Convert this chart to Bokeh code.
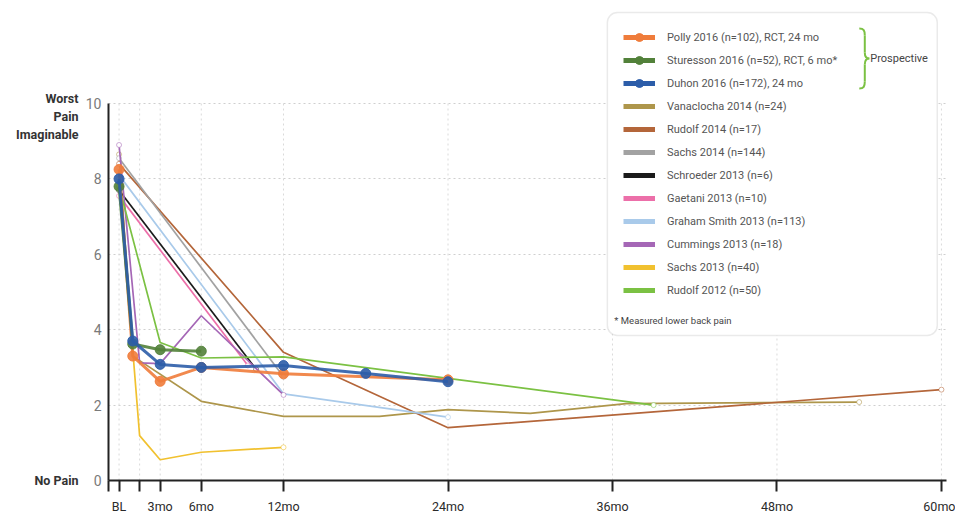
from bokeh.plotting import figure
from bokeh.models import (FixedTicker, Range1d, Legend, LegendItem, BoxAnnotation,
                          Label, LinearAxis)
from bokeh.embed import file_html
from bokeh.resources import INLINE

# ---------------- data ----------------
tick_months = [0, 1.5, 3, 6, 12, 24, 36, 48, 60]
tick_labels = ["BL", "", "3mo", "6mo", "12mo", "24mo", "36mo", "48mo", "60mo"]
y_ticks = [0, 2, 4, 6, 8, 10]

polly_x = [0, 1, 3, 6, 12, 24]
polly_y = [8.25, 3.3, 2.63, 3.0, 2.83, 2.67]

sturesson_x = [0, 1, 3, 6]
sturesson_y = [7.8, 3.62, 3.47, 3.43]

duhon_x = [0, 1, 3, 6, 12, 18, 24]
duhon_y = [8.0, 3.7, 3.08, 3.0, 3.05, 2.84, 2.62]

vanaclocha_x = [0, 1, 6, 12, 19, 24, 30, 37, 54]
vanaclocha_y = [8.65, 3.3, 2.1, 1.7, 1.7, 1.88, 1.78, 2.04, 2.08]

rudolf14_x = [0, 12, 24, 60]
rudolf14_y = [8.4, 3.4, 1.4, 2.41]

sachs14_x = [0, 12]
sachs14_y = [8.55, 2.75]

schroeder_x = [0, 10]
schroeder_y = [7.7, 2.95]

gaetani_x = [0, 9.4]
gaetani_y = [7.55, 3.05]

graham_x = [0, 12, 24]
graham_y = [8.1, 2.3, 1.68]

cummings_x = [0, 1.5, 3, 6, 12]
cummings_y = [8.9, 3.12, 3.1, 4.37, 2.27]

sachs13_x = [0, 1.5, 3, 6, 12]
sachs13_y = [8.0, 1.19, 0.55, 0.75, 0.88]

rudolf12_x = [0, 3, 6, 12, 24, 39]
rudolf12_y = [7.8, 3.66, 3.25, 3.28, 2.71, 2.0]

prospective = [
    ("Polly 2016 (n=102), RCT, 24 mo", polly_x, polly_y, "#EF7C3B"),
    ("Sturesson 2016 (n=52), RCT, 6 mo*", sturesson_x, sturesson_y, "#52813A"),
    ("Duhon 2016 (n=172), 24 mo", duhon_x, duhon_y, "#2C5DA9"),
]
others = [
    ("Vanaclocha 2014 (n=24)", vanaclocha_x, vanaclocha_y, "#AE964B"),
    ("Rudolf 2014 (n=17)", rudolf14_x, rudolf14_y, "#B4663A"),
    ("Sachs 2014 (n=144)", sachs14_x, sachs14_y, "#A2A2A2"),
    ("Schroeder 2013 (n=6)", schroeder_x, schroeder_y, "#1B1B1B"),
    ("Gaetani 2013 (n=10)", gaetani_x, gaetani_y, "#EC6FA9"),
    ("Graham Smith 2013 (n=113)", graham_x, graham_y, "#A9CAEA"),
    ("Cummings 2013 (n=18)", cummings_x, cummings_y, "#A567B6"),
    ("Sachs 2013 (n=40)", sachs13_x, sachs13_y, "#F1C12F"),
    ("Rudolf 2012 (n=50)", rudolf12_x, rudolf12_y, "#7BC143"),
]
axis_captions = {9.65: "Worst\nPain\nImaginable", 0: "No Pain"}

# ---------------- layout helpers (page pixels -> data) ----------------
FONT = "Roboto"
X_START, X_END = -0.77, 60.37
FRAME_LEFT_PX, FRAME_BOTTOM_PX = 108.0, 480.0
PX_PER_MONTH = 13.71
PX_PER_UNIT = 37.7
NAN = float("nan")


def dx(px):
    return X_START + (px - FRAME_LEFT_PX) / PX_PER_MONTH


def dy(py):
    return (FRAME_BOTTOM_PX - py) / PX_PER_UNIT


p = figure(width=955, height=516, x_range=Range1d(X_START, X_END),
           y_range=Range1d(0, dy(10)), output_backend="svg",
           toolbar_location=None, min_border_left=108, min_border_right=9,
           min_border_top=10, min_border_bottom=36)
p.outline_line_color = None
p.background_fill_color = "white"

# axes
xa = p.xaxis[0]
xa.ticker = FixedTicker(ticks=[X_START] + tick_months)
overrides = {X_START: ""}
for m, lab in zip(tick_months, tick_labels):
    overrides[m] = lab
xa.major_label_overrides = overrides
xa.axis_line_width = 2
xa.axis_line_color = "#222222"
xa.major_tick_out = 11
xa.major_tick_in = 0
xa.major_tick_line_width = 2
xa.major_tick_line_color = "#222222"
xa.minor_tick_out = 0
xa.minor_tick_in = 0
xa.major_label_text_font = FONT
xa.major_label_text_font_size = "12.5px"
xa.major_label_text_color = "#2a2a2a"
xa.major_label_standoff = 7

ya = p.yaxis[0]
ya.ticker = FixedTicker(ticks=y_ticks)
ya.bounds = (0, 10)
ya.axis_line_width = 2
ya.axis_line_color = "#222222"
ya.major_tick_out = 0
ya.major_tick_in = 0
ya.minor_tick_out = 0
ya.minor_tick_in = 0
ya.major_label_text_font = FONT
ya.major_label_text_font_size = "14px"
ya.major_label_text_color = "#7a7a7a"
ya.major_label_standoff = 7

cap = LinearAxis(ticker=FixedTicker(ticks=list(axis_captions.keys())),
                 major_label_overrides=axis_captions)
cap.axis_line_color = None
cap.major_tick_out = 0
cap.major_tick_in = 0
cap.minor_tick_out = 0
cap.minor_tick_in = 0
cap.major_label_standoff = 4
cap.major_label_text_font = FONT
cap.major_label_text_font_size = "12.5px"
cap.major_label_text_font_style = "bold"
cap.major_label_text_color = "#333333"
cap.major_label_text_line_height = 1.2
p.add_layout(cap, "left")

p.xgrid.visible = False
p.ygrid.ticker = FixedTicker(ticks=y_ticks[1:])
p.ygrid.grid_line_color = "#cfcfcf"
p.ygrid.grid_line_dash = "2 3"
p.ygrid.grid_line_width = 1

# vertical grid lines at tick months
p.segment(x0=tick_months, y0=[y_ticks[0]] * len(tick_months),
          x1=tick_months, y1=[y_ticks[-1]] * len(tick_months),
          line_color="#dadada", line_dash="2 3", line_width=1)

# ---------------- series ----------------
legend_map = {}
for name, xs, ys, col in others:
    p.line(xs, ys, line_color=col, line_width=1.7)
    p.scatter([xs[0], xs[-1]], [ys[0], ys[-1]], size=5, marker="circle",
              fill_color="white", line_color=col, line_alpha=0.55, line_width=1)
    lr = p.line(x=[NAN], y=[NAN], line_color=col, line_width=5)
    legend_map[name] = [lr]

for name, xs, ys, col in prospective:
    p.line(xs, ys, line_color=col, line_width=3, line_alpha=0.9)
    p.scatter(xs, ys, size=10, marker="circle", fill_color=col,
              line_color=col, fill_alpha=0.9, line_alpha=0.9)
    lr = p.line(x=[NAN], y=[NAN], line_color=col, line_width=5)
    lc = p.scatter(x=[NAN], y=[NAN], size=11, marker="circle",
                   fill_color=col, line_color=col)
    legend_map[name] = [lr, lc]

legend_items = [LegendItem(label=name, renderers=legend_map[name])
                for name, _, _, _ in prospective + others]

# legend frame
box = BoxAnnotation(left=dx(607), right=dx(937), top=dy(12), bottom=dy(335),
                    fill_color="white", fill_alpha=1.0, line_color="#b8b8b8",
                    line_width=1.5, border_radius=10)
p.add_layout(box)

legend = Legend(items=legend_items, location=(515, 180))
legend.background_fill_alpha = 0
legend.border_line_color = None
legend.padding = 0
legend.margin = 0
legend.spacing = 3
legend.glyph_width = 32
legend.glyph_height = 20
legend.label_height = 20
legend.label_standoff = 12
legend.label_text_font = FONT
legend.label_text_font_size = "11px"
legend.label_text_color = "#555555"
p.add_layout(legend)

# footnote & prospective brace
p.add_layout(Label(x=dx(614), y=dy(320), text="* Measured lower back pain",
                   text_font=FONT, text_font_size="9.5px", text_color="#444444",
                   text_baseline="middle"))
p.add_layout(Label(x=dx(870), y=dy(58), text="Prospective",
                   text_font=FONT, text_font_size="11px", text_color="#444444",
                   text_baseline="middle"))

brace_px = [
    ((859, 28), (863.5, 28), (864.5, 30), (864.5, 35)),
    ((864.5, 35), (864.5, 40), (864.5, 47), (864.5, 52)),
    ((864.5, 52), (864.5, 56), (866, 58), (869, 58)),
    ((869, 58), (866, 58), (864.5, 60), (864.5, 64)),
    ((864.5, 64), (864.5, 69), (864.5, 76), (864.5, 81)),
    ((864.5, 81), (864.5, 86), (863.5, 88), (859, 88)),
]
p.bezier(x0=[dx(b[0][0]) for b in brace_px], y0=[dy(b[0][1]) for b in brace_px],
         cx0=[dx(b[1][0]) for b in brace_px], cy0=[dy(b[1][1]) for b in brace_px],
         cx1=[dx(b[2][0]) for b in brace_px], cy1=[dy(b[2][1]) for b in brace_px],
         x1=[dx(b[3][0]) for b in brace_px], y1=[dy(b[3][1]) for b in brace_px],
         line_color="#7BC143", line_width=2, level="overlay")

open("out.html", "w").write(file_html(p, INLINE))
